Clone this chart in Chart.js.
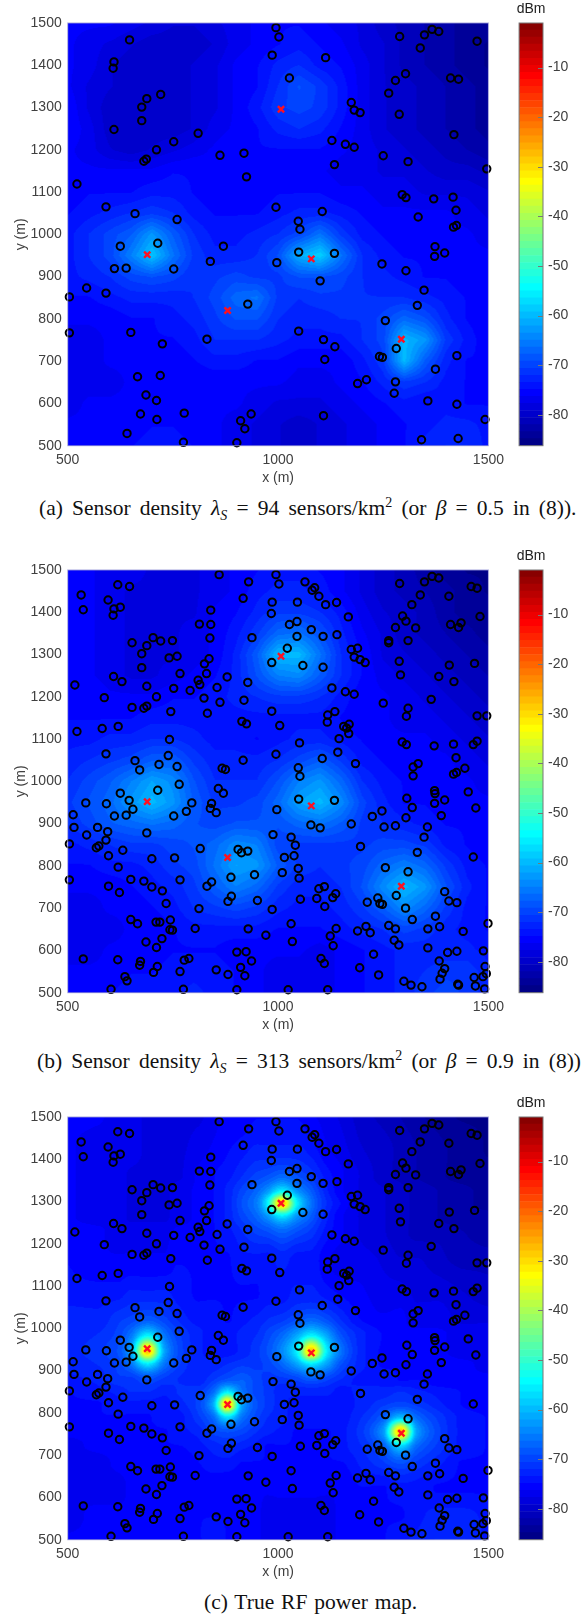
<!DOCTYPE html>
<html>
<head>
<meta charset="utf-8">
<script src="https://cdn.jsdelivr.net/npm/chart.js@4"></script>
<style>
html,body{margin:0;padding:0;background:#fff;width:581px;height:1615px;overflow:hidden}
canvas{position:absolute}
.cap{position:absolute;font-family:"Liberation Serif",serif;font-size:21.5px;line-height:24px;white-space:nowrap;color:#111;word-spacing:3.8px}
.cap sub{font-size:14px;line-height:0;font-style:italic}
.cap sup{font-size:14px;line-height:0}
.cap i{font-style:italic}
</style>
</head>
<body>
<canvas id="mapA"></canvas><canvas id="barA"></canvas>
<div class="cap" style="left:39px;top:496px">(a) Sensor density <i>λ</i><sub>S</sub> = 94 sensors/km<sup>2</sup> (or <i>β</i> = 0.5 in (8)).</div>
<canvas id="mapB"></canvas><canvas id="barB"></canvas>
<div class="cap" style="left:37px;top:1049px">(b) Sensor density <i>λ</i><sub>S</sub> = 313 sensors/km<sup>2</sup> (or <i>β</i> = 0.9 in (8))</div>
<canvas id="mapC"></canvas><canvas id="barC"></canvas>
<div class="cap" style="left:204px;top:1590px;word-spacing:1.5px">(c) True RF power map.</div>
<script>
var xTicks = [500,1000,1500];
var yTicks = [500,600,700,800,900,1000,1100,1200,1300,1400,1500];
var barTicks = [-80,-70,-60,-50,-40,-30,-20,-10];
var barMin = -86.25, barMax = -1, barLevels = 60;

// the five transmitters
var sources = [[689,952],[880,820],[1007,1296],[1079,942],[1293,752]];

var sensorsA = [
[995,1489],[1002,1467],[647,1460],[986,1424],[1113,1418],[610,1408],[608,1393],[1027,1370],[721,1331],[688,1321],
[676,1301],[676,1269],[610,1248],[810,1239],[752,1219],[711,1200],[687,1178],[681,1173],[862,1187],[919,1192],
[925,1136],[522,1119],[1128,1222],[1160,1213],[1181,1206],[1134,1165],[1174,1312],[1181,1294],[1195,1288],[1263,1334],
[1288,1284],[1279,1364],[1303,1380],[1289,1468],[1348,1472],[1366,1485],[1382,1480],[1338,1441],[1473,1457],[1410,1370],
[1429,1367],[1418,1236],[1250,1186],[1309,1172],[1496,1155],[1295,1094],[1304,1087],[1370,1084],[1416,1088],[1423,1057],
[591,1065],[660,1049],[760,1035],[995,1064],[1105,1054],[1048,1031],[1052,1012],[1333,1041],[1424,1021],[1417,1017],
[714,979],[625,972],[870,972],[1373,971],[1396,956],[1372,948],[1049,958],[1134,955],[839,936],[997,933],[1247,930],
[611,919],[639,920],[752,918],[1304,914],[545,873],[591,861],[504,852],[1100,890],[1347,868],[1331,832],[928,835],
[1255,796],[504,767],[650,768],[1049,771],[831,752],[725,741],[1108,751],[1135,734],[1281,730],[1111,704],[1241,711],
[1248,709],[1425,713],[1374,681],[666,663],[720,666],[1210,656],[1189,647],[1279,651],[686,620],[711,607],[1276,624],
[1356,606],[1425,598],[673,575],[712,562],[777,577],[936,575],[911,559],[921,540],[1108,571],[1492,562],[641,529],
[775,508],[902,507],[1341,514],[1428,517]
];

var sensorsB = [
[860,1489],[995,1489],[930,1472],[1002,1467],[1064,1472],[1087,1458],[1081,1452],[1097,1438],[1113,1418],[1139,1423],
[1046,1424],[986,1424],[917,1433],[984,1397],[840,1405],[813,1372],[840,1371],[838,1339],[938,1340],[1027,1371],
[1045,1378],[1045,1343],[1079,1359],[1107,1343],[1140,1347],[1167,1389],[1022,1315],[985,1281],[1059,1274],[1107,1270],
[1174,1312],[1189,1315],[1181,1294],[1195,1288],[1207,1281],[1128,1221],[1160,1212],[1181,1206],[928,1234],[879,1247],
[830,1255],[810,1239],[814,1229],[855,1222],[791,1215],[752,1220],[688,1225],[629,1236],[609,1248],[517,1228],
[587,1198],[711,1200],[824,1197],[862,1187],[919,1192],[653,1175],[681,1173],[688,1178],[745,1165],[832,1161],
[985,1166],[1135,1165],[1118,1157],[1117,1140],[914,1142],[925,1136],[1004,1132],[620,1130],[582,1125],[522,1118],
[1156,1130],[1169,1135],[1163,1126],[1168,1113],[1250,1185],[1309,1173],[1305,1154],[1364,1194],[1473,1155],[1496,1155],
[742,1099],[1145,1101],[1051,1091],[1295,1093],[1305,1087],[1371,1084],[1417,1088],[1464,1087],[1473,1095],[591,1065],
[995,1064],[1142,1069],[739,1061],[1423,1056],[1105,1054],[660,1049],[917,1050],[717,1040],[760,1035],[1184,1042],
[1048,1032],[671,1027],[867,1031],[875,1028],[1333,1042],[1321,1034],[1444,1031],[1424,1021],[1417,1017],[1052,1012],
[1321,1013],[765,993],[714,979],[625,972],[858,983],[870,972],[1372,978],[1373,971],[1452,975],[1306,960],
[1049,958],[1134,955],[543,949],[592,947],[646,955],[655,934],[795,949],[842,948],[839,936],[782,929],
[853,926],[997,933],[1319,938],[1372,948],[1396,956],[1470,937],[1247,930],[513,921],[611,918],[639,920],
[752,918],[1224,917],[1304,914],[1388,919],[515,891],[571,891],[595,881],[545,873],[688,878],[591,861],
[1078,897],[1100,890],[1174,899],[1252,892],[1279,895],[1355,892],[988,874],[1031,868],[1041,849],[1347,868],
[504,852],[574,847],[568,843],[631,837],[815,841],[905,839],[928,835],[913,831],[1331,832],[1196,846],
[597,824],[700,817],[754,819],[1015,820],[1038,824],[1464,821],[620,797],[1255,796],[1048,794],[1010,784],
[1309,786],[888,773],[944,779],[1050,771],[504,767],[650,768],[681,764],[767,767],[842,762],[831,752],
[597,752],[700,750],[725,741],[623,737],[1097,746],[1110,751],[1396,739],[1281,730],[1137,734],[1130,725],
[889,728],[1092,723],[1053,721],[1237,724],[881,716],[951,718],[1212,714],[1242,711],[1248,709],[1406,717],
[1425,713],[734,711],[1111,704],[1303,700],[812,699],[986,697],[650,673],[666,663],[710,667],[719,667],
[744,672],[1319,673],[1374,681],[1031,663],[743,649],[749,648],[803,652],[929,651],[1138,652],[1189,646],
[1209,657],[1219,642],[1263,659],[1279,651],[1356,651],[1384,656],[1440,645],[1499,664],[971,636],[1124,634],
[686,620],[724,628],[1034,621],[1276,624],[1287,613],[1131,611],[711,607],[1356,606],[902,596],[924,597],
[1227,591],[1403,595],[1425,598],[1488,599],[537,580],[619,578],[777,577],[788,581],[1102,581],[1110,569],
[937,575],[673,574],[671,565],[713,562],[911,560],[1383,575],[1194,559],[1396,557],[1492,562],[704,548],
[767,550],[853,554],[881,543],[921,540],[1239,542],[1390,546],[1495,545],[636,538],[641,528],[1385,532],
[1466,536],[1487,538],[1299,527],[1316,518],[1342,514],[1429,518],[1427,520],[1469,516],[1491,509],[603,508],
[775,508],[902,507],[1024,507],[1118,507],
[619,1465],[647,1461],[532,1441],[596,1429],[537,1406],[610,1408],[625,1412],[608,1393],[653,1328],[688,1321],
[703,1340],[721,1332],[749,1333],[676,1302],[741,1292],[760,1296],[836,1290],[825,1278],[676,1269],[767,1255],
[1289,1468],[1348,1472],[1366,1485],[1382,1481],[1338,1441],[1406,1438],[1459,1461],[1473,1457],[1318,1418],[1296,1391],
[1304,1379],[1279,1364],[1327,1363],[1410,1371],[1429,1364],[1435,1375],[1480,1390],[1263,1333],[1263,1328],[1309,1333],
[1288,1284],[1291,1252],[1407,1275],[1467,1279],[1382,1248],[1418,1236]
];

// dBm; rows run from y=1500 down to y=500
var gridX = [500,550,600,650,700,750,800,850,900,950,1000,1050,1100,1150,1200,1250,1300,1350,1400,1450,1500];
var gridY = [1500,1450,1400,1350,1300,1250,1200,1150,1100,1050,1000,950,900,850,800,750,700,650,600,550,500];

var heatA = [
[-76,-76,-76,-77,-78,-79,-79,-78,-77,-76,-75,-75,-76,-77,-78,-80,-81,-82,-83,-84,-84],
[-76,-77,-78,-79,-80,-80,-80,-79,-77,-76,-75,-74,-75,-76,-78,-79,-81,-82,-83,-84,-85],
[-76,-77,-79,-80,-80,-80,-79,-78,-76,-75,-73,-72,-74,-75,-77,-79,-81,-82,-83,-84,-85],
[-76,-78,-79,-80,-80,-80,-79,-78,-76,-75,-72,-69,-71,-74,-77,-79,-80,-81,-82,-83,-84],
[-75,-78,-80,-80,-80,-80,-79,-78,-76,-74,-71,-70,-71,-74,-77,-79,-80,-81,-82,-83,-84],
[-75,-77,-80,-80,-80,-80,-79,-77,-76,-75,-73,-72,-73,-75,-77,-79,-80,-81,-82,-83,-84],
[-76,-77,-79,-80,-79,-78,-77,-76,-75,-75,-75,-75,-75,-76,-77,-78,-79,-80,-81,-82,-83],
[-76,-76,-76,-76,-76,-75,-75,-76,-76,-76,-76,-76,-76,-77,-77,-78,-78,-79,-80,-80,-81],
[-76,-75,-75,-75,-74,-74,-75,-76,-76,-76,-75,-75,-75,-76,-76,-77,-77,-78,-78,-78,-79],
[-75,-74,-73,-72,-71,-72,-74,-75,-75,-75,-74,-73,-73,-74,-75,-76,-76,-76,-76,-77,-78],
[-74,-72,-70,-68,-63,-68,-72,-74,-74,-73,-72,-70,-66,-71,-74,-75,-76,-76,-76,-76,-77],
[-74,-72,-70,-65,-59,-66,-71,-73,-73,-72,-69,-61,-58,-66,-72,-74,-75,-75,-75,-76,-76],
[-74,-73,-72,-70,-69,-70,-72,-71,-70,-71,-71,-69,-69,-70,-72,-73,-74,-75,-75,-76,-76],
[-75,-75,-74,-73,-73,-73,-72,-70,-67,-66,-71,-72,-71,-71,-72,-72,-72,-73,-74,-75,-76],
[-76,-76,-76,-75,-75,-74,-73,-71,-69,-69,-72,-73,-73,-72,-72,-70,-67,-69,-73,-75,-76],
[-77,-77,-76,-76,-75,-75,-74,-72,-72,-72,-73,-74,-74,-74,-72,-70,-60,-63,-71,-74,-76],
[-77,-77,-76,-76,-76,-76,-75,-74,-74,-75,-75,-76,-76,-76,-74,-71,-60,-68,-73,-75,-75],
[-77,-77,-77,-76,-76,-76,-76,-76,-76,-76,-76,-77,-77,-76,-75,-73,-71,-72,-74,-75,-75],
[-77,-76,-76,-76,-76,-76,-76,-76,-76,-77,-78,-78,-78,-77,-76,-75,-74,-75,-74,-75,-75],
[-76,-76,-76,-76,-75,-75,-76,-76,-77,-78,-79,-80,-79,-78,-77,-76,-75,-74,-73,-73,-74],
[-75,-75,-75,-75,-74,-74,-75,-76,-77,-78,-79,-80,-79,-78,-77,-76,-75,-73,-72,-72,-74]
];

var heatB = [
[-76,-76,-77,-77,-78,-78,-78,-77,-76,-75,-74,-74,-75,-76,-78,-80,-81,-83,-84,-85,-85],
[-76,-76,-77,-78,-78,-78,-78,-77,-76,-74,-73,-73,-74,-76,-78,-80,-81,-82,-83,-84,-85],
[-76,-76,-77,-78,-78,-78,-78,-76,-75,-73,-71,-71,-72,-74,-77,-79,-80,-81,-83,-84,-84],
[-75,-76,-77,-78,-78,-78,-77,-76,-74,-71,-67,-66,-69,-73,-76,-78,-80,-81,-82,-83,-84],
[-75,-76,-77,-78,-78,-78,-77,-76,-73,-68,-60,-60,-66,-72,-75,-78,-79,-80,-81,-82,-83],
[-75,-76,-77,-78,-78,-77,-76,-75,-73,-69,-65,-64,-68,-72,-75,-77,-78,-79,-80,-81,-82],
[-75,-75,-76,-76,-76,-75,-75,-74,-73,-72,-71,-71,-72,-74,-76,-76,-77,-78,-79,-80,-81],
[-75,-75,-75,-75,-74,-74,-74,-74,-74,-74,-74,-74,-74,-75,-76,-76,-77,-77,-78,-79,-80],
[-74,-74,-73,-73,-72,-72,-73,-74,-74,-75,-74,-73,-73,-74,-75,-76,-76,-76,-77,-78,-79],
[-73,-72,-71,-70,-68,-68,-71,-73,-73,-73,-72,-70,-68,-71,-74,-75,-76,-76,-76,-77,-78],
[-72,-70,-68,-65,-62,-64,-69,-72,-72,-72,-69,-65,-63,-67,-72,-74,-75,-76,-76,-76,-77],
[-71,-69,-67,-63,-60,-63,-68,-71,-71,-70,-67,-62,-60,-64,-70,-73,-75,-75,-76,-76,-76],
[-72,-70,-68,-67,-66,-67,-69,-70,-69,-69,-69,-67,-66,-68,-71,-72,-73,-74,-75,-75,-76],
[-74,-73,-72,-71,-71,-70,-69,-67,-64,-65,-70,-71,-71,-71,-71,-70,-70,-71,-74,-75,-76],
[-75,-75,-74,-74,-73,-71,-70,-66,-62,-63,-68,-71,-72,-71,-70,-67,-65,-67,-71,-74,-75],
[-76,-76,-76,-75,-74,-73,-71,-68,-65,-67,-71,-73,-73,-72,-69,-64,-60,-63,-69,-73,-75],
[-77,-77,-76,-76,-75,-74,-72,-71,-70,-71,-73,-74,-74,-73,-71,-68,-64,-67,-71,-74,-75],
[-77,-77,-77,-76,-76,-75,-74,-74,-74,-74,-75,-75,-75,-74,-73,-72,-70,-71,-73,-74,-75],
[-77,-77,-76,-76,-76,-75,-75,-75,-76,-76,-76,-76,-77,-76,-75,-74,-73,-73,-73,-73,-74],
[-76,-76,-76,-75,-75,-74,-74,-74,-75,-76,-77,-77,-77,-76,-75,-74,-73,-72,-71,-71,-73],
[-75,-75,-75,-74,-74,-74,-73,-74,-75,-76,-77,-77,-77,-76,-75,-74,-73,-71,-70,-71,-73]
];

// true map has tighter peaks, so its grid is closer round the sources
var trueX = [500,570,620,650,690,730,760,810,845,880,915,950,975,1010,1045,1079,1115,1150,1200,1250,1292,1330,1380,1440,1500];
var trueY = [1500,1420,1360,1325,1296,1265,1230,1160,1080,1020,985,946,915,880,850,820,790,755,720,680,620,560,500];
var heatC = [
[-76,-76,-77,-77,-78,-78,-78,-78,-77,-76,-76,-75,-75,-75,-75,-76,-77,-78,-80,-81,-82,-83,-84,-85,-85],
[-76,-77,-77,-77,-78,-78,-78,-77,-76,-75,-74,-73,-73,-73,-73,-74,-76,-77,-79,-80,-81,-82,-83,-84,-85],
[-76,-77,-77,-78,-78,-78,-78,-76,-75,-74,-72,-70,-69,-67,-69,-71,-74,-76,-78,-80,-81,-82,-83,-84,-84],
[-76,-77,-77,-78,-78,-78,-77,-76,-75,-73,-70,-67,-63,-55,-63,-68,-73,-76,-78,-79,-80,-81,-82,-83,-84],
[-76,-77,-77,-78,-78,-78,-77,-76,-75,-73,-69,-65,-55,-28,-55,-66,-72,-75,-78,-79,-80,-81,-82,-83,-84],
[-76,-77,-77,-78,-78,-78,-77,-76,-75,-73,-70,-67,-63,-56,-63,-68,-73,-76,-78,-79,-80,-81,-82,-83,-83],
[-76,-76,-77,-77,-77,-77,-76,-76,-75,-74,-72,-70,-69,-67,-69,-71,-74,-76,-78,-79,-80,-81,-81,-82,-83],
[-75,-76,-76,-76,-76,-76,-75,-75,-75,-75,-74,-74,-74,-73,-74,-74,-76,-77,-77,-78,-79,-79,-80,-81,-81],
[-74,-74,-74,-73,-73,-73,-74,-75,-75,-75,-75,-75,-74,-74,-73,-73,-74,-75,-76,-77,-77,-78,-78,-79,-80],
[-73,-73,-71,-70,-68,-70,-72,-74,-74,-75,-74,-73,-72,-71,-69,-67,-69,-72,-75,-76,-76,-77,-77,-78,-78],
[-73,-72,-70,-66,-56,-66,-70,-73,-74,-74,-73,-72,-70,-67,-62,-56,-62,-69,-73,-75,-76,-76,-76,-77,-77],
[-73,-71,-69,-62,-28,-62,-69,-73,-74,-74,-73,-71,-69,-64,-55,-28,-55,-66,-73,-75,-75,-76,-76,-77,-77],
[-73,-72,-70,-66,-56,-66,-70,-73,-73,-72,-71,-71,-70,-67,-62,-56,-62,-69,-73,-75,-75,-76,-76,-76,-77],
[-74,-73,-71,-71,-69,-71,-72,-73,-71,-69,-68,-70,-71,-71,-70,-68,-70,-72,-74,-74,-75,-75,-76,-76,-76],
[-75,-74,-73,-72,-72,-73,-72,-71,-67,-56,-66,-70,-71,-73,-73,-73,-73,-74,-73,-73,-72,-73,-74,-75,-76],
[-75,-75,-74,-74,-74,-74,-73,-70,-62,-28,-62,-69,-71,-73,-74,-74,-74,-74,-73,-71,-70,-71,-73,-75,-76],
[-76,-75,-75,-75,-75,-74,-74,-71,-67,-56,-66,-70,-72,-73,-74,-74,-74,-74,-72,-68,-60,-67,-71,-74,-75],
[-76,-76,-76,-75,-75,-75,-74,-73,-70,-69,-70,-72,-73,-74,-75,-75,-75,-74,-71,-63,-28,-62,-70,-74,-75],
[-77,-76,-76,-76,-76,-75,-75,-74,-73,-72,-73,-74,-75,-75,-75,-75,-75,-74,-72,-68,-58,-67,-71,-74,-75],
[-77,-77,-76,-76,-76,-76,-76,-75,-74,-74,-75,-75,-75,-76,-76,-76,-75,-75,-73,-71,-69,-71,-73,-75,-75],
[-77,-77,-77,-76,-76,-76,-76,-76,-76,-76,-76,-76,-76,-76,-76,-76,-76,-76,-75,-75,-74,-74,-75,-75,-75],
[-77,-76,-76,-76,-76,-76,-76,-75,-75,-75,-76,-76,-77,-77,-77,-77,-77,-76,-76,-75,-75,-74,-73,-73,-74],
[-76,-76,-76,-75,-75,-75,-75,-75,-74,-75,-76,-76,-77,-77,-77,-77,-77,-76,-76,-75,-74,-73,-72,-72,-74]
];

var PLOT = 422.7, LEFT = 67.7, RIGHT = 490.4, ABOVE = 20, CANVAS_H = 490;
var tickFont = {family:'"Liberation Sans", Arial, sans-serif', size:14};
var textColor = '#404040';

function jet(t) {
    var c = function (v) { return Math.round(255 * Math.max(0, Math.min(1, v))); };
    return [c(1.5 - Math.abs(4*t - 3)), c(1.5 - Math.abs(4*t - 2)), c(1.5 - Math.abs(4*t - 1))];
}

function levelOf(v) {
    var i = Math.floor((v - barMin) / (barMax - barMin) * barLevels);
    return Math.max(0, Math.min(barLevels - 1, i));
}

// piecewise line, or monotone cubic for the smooth map
function curve(xs, vs, smooth) {
    var n = xs.length, d = [], m = [];
    for (var i = 0; i < n - 1; i++) d[i] = (vs[i+1] - vs[i]) / (xs[i+1] - xs[i]);
    m[0] = d[0]; m[n-1] = d[n-2];
    for (var j = 1; j < n - 1; j++) {
        if (d[j-1] * d[j] <= 0) { m[j] = 0; continue; }
        var h0 = xs[j] - xs[j-1], h1 = xs[j+1] - xs[j];
        m[j] = 3 * (h0 + h1) / ((2*h1 + h0) / d[j-1] + (h1 + 2*h0) / d[j]);
    }
    return function (x) {
        var k = 0;
        while (k < n - 2 && x > xs[k+1]) k++;
        var h = xs[k+1] - xs[k], t = (x - xs[k]) / h;
        if (!smooth) return vs[k] + t * (vs[k+1] - vs[k]);
        var t2 = t*t, t3 = t2*t;
        return (2*t3 - 3*t2 + 1) * vs[k] + (t3 - 2*t2 + t) * h * m[k] + (3*t2 - 2*t3) * vs[k+1] + (t3 - t2) * h * m[k+1];
    };
}

function heatPlugin(xs, ys, rows, smooth) {
    return {
        id: 'heat',
        beforeDatasetsDraw: function (chart) {
            var a = chart.chartArea, sx = chart.scales.x, sy = chart.scales.y;
            var w = Math.ceil(a.right - a.left), h = Math.ceil(a.bottom - a.top);
            var off = document.createElement('canvas');
            off.width = w; off.height = h;
            var octx = off.getContext('2d'), img = octx.createImageData(w, h);
            var upY = ys.slice().reverse();
            var cols = xs.map(function (_, c) {
                return curve(upY, rows.map(function (r) { return r[c]; }).reverse(), smooth);
            });
            var dataX = [];
            for (var px = 0; px < w; px++) dataX[px] = sx.getValueForPixel(a.left + px + 0.5);
            var p = 0;
            for (var py = 0; py < h; py++) {
                var y = sy.getValueForPixel(a.top + py + 0.5);
                var line = curve(xs, cols.map(function (f) { return f(y); }), smooth);
                for (var q = 0; q < w; q++) {
                    var rgb = jet((levelOf(line(dataX[q])) + 0.5) / barLevels);
                    img.data[p++] = rgb[0]; img.data[p++] = rgb[1]; img.data[p++] = rgb[2]; img.data[p++] = 255;
                }
            }
            octx.putImageData(img, 0, 0);
            chart.ctx.drawImage(off, a.left, a.top, a.right - a.left, a.bottom - a.top);
        },
        afterDraw: function (chart) {
            var a = chart.chartArea, c = chart.ctx;
            c.save();
            c.strokeStyle = 'rgba(150,150,215,0.85)';
            c.lineWidth = 1;
            c.strokeRect(a.left, a.top, a.right - a.left, a.bottom - a.top);
            c.restore();
        }
    };
}

function pts(list) {
    return list.map(function (p) { return {x: p[0], y: p[1]}; });
}

function plainTick(v) {
    return String(v);
}

function drawMap(id, top, sensors, xs, ys, rows, smooth) {
    var el = document.getElementById(id);
    el.style.left = '0px';
    el.style.top = (top - ABOVE) + 'px';
    el.width = 510; el.height = CANVAS_H;
    new Chart(el, {
        type: 'scatter',
        data: {datasets: [
            {label: 'Transmitters', data: pts(sources), pointStyle: 'crossRot', pointRadius: 4.4, pointBorderWidth: 2.4, pointBorderColor: '#ff1020', clip: false},
            {label: 'Sensors', data: pts(sensors), pointStyle: 'circle', pointRadius: 3.7, pointBorderWidth: 2, pointBorderColor: '#000', pointBackgroundColor: 'rgba(0,0,0,0)', clip: false}
        ]},
        options: {
            responsive: false, animation: false, events: [],
            layout: {padding: {left: 0, right: 510 - RIGHT, top: ABOVE, bottom: 0}},
            plugins: {legend: {display: false}, tooltip: {enabled: false}},
            scales: {
                x: {
                    type: 'linear', min: 500, max: 1500,
                    grid: {display: false, drawTicks: false}, border: {display: false},
                    title: {display: true, text: 'x (m)', color: textColor, font: tickFont, padding: {top: 0, bottom: 6}},
                    ticks: {color: textColor, font: tickFont, padding: 6, maxRotation: 0, autoSkip: false, callback: plainTick},
                    afterBuildTicks: function (s) { s.ticks = xTicks.map(function (v) { return {value: v}; }); },
                    afterFit: function (s) { s.height = CANVAS_H - ABOVE - PLOT; }
                },
                y: {
                    type: 'linear', min: 500, max: 1500,
                    grid: {display: false, drawTicks: false}, border: {display: false},
                    title: {display: true, text: 'y (m)', color: textColor, font: tickFont, padding: {top: 13, bottom: 0}},
                    ticks: {color: textColor, font: tickFont, padding: 6, autoSkip: false, callback: plainTick},
                    afterBuildTicks: function (s) { s.ticks = yTicks.map(function (v) { return {value: v}; }); },
                    afterFit: function (s) { s.width = LEFT; }
                }
            }
        },
        plugins: [heatPlugin(xs, ys, rows, smooth)]
    });
}

function drawBar(id, top) {
    var el = document.getElementById(id);
    el.style.left = '505px';
    el.style.top = (top - ABOVE) + 'px';
    el.width = 76; el.height = CANVAS_H;
    var sets = [];
    for (var i = 0; i < barLevels; i++) {
        var step = (barMax - barMin) / barLevels, rgb = jet((i + 0.5) / barLevels);
        sets.push({data: [[barMin + i*step, barMin + (i+1)*step]], backgroundColor: 'rgb(' + rgb.join(',') + ')', grouped: false, barPercentage: 1, categoryPercentage: 1});
    }
    new Chart(el, {
        type: 'bar',
        data: {labels: ['dBm'], datasets: sets},
        options: {
            responsive: false, animation: false, events: [],
            layout: {padding: {left: 13.3, right: 0, top: 0, bottom: CANVAS_H - ABOVE - PLOT}},
            plugins: {legend: {display: false}, tooltip: {enabled: false}},
            scales: {
                x: {
                    position: 'top',
                    grid: {display: false, drawTicks: false}, border: {display: false},
                    ticks: {color: '#222', font: tickFont, padding: 5, maxRotation: 0},
                    afterFit: function (s) { s.height = ABOVE; }
                },
                y: {
                    position: 'right', min: barMin, max: barMax,
                    grid: {display: false, drawTicks: false}, border: {display: false},
                    ticks: {color: textColor, font: tickFont, padding: 5, autoSkip: false, callback: plainTick},
                    afterBuildTicks: function (s) { s.ticks = barTicks.map(function (v) { return {value: v}; }); },
                    afterFit: function (s) { s.width = 38; }
                }
            }
        },
        plugins: [{
            id: 'barFrame',
            afterDraw: function (chart) {
                var a = chart.chartArea, c = chart.ctx, sy = chart.scales.y;
                c.save();
                c.strokeStyle = '#777';
                c.lineWidth = 1;
                c.strokeRect(a.left, a.top, a.right - a.left, a.bottom - a.top);
                barTicks.forEach(function (v) {
                    var y = Math.round(sy.getPixelForValue(v)) + 0.5;
                    c.beginPath(); c.moveTo(a.right - 5, y); c.lineTo(a.right, y); c.stroke();
                });
                c.restore();
            }
        }]
    });
}

drawMap('mapA', 23.3, sensorsA, gridX, gridY, heatA, false);
drawBar('barA', 23.3);
drawMap('mapB', 570.3, sensorsB, gridX, gridY, heatB, false);
drawBar('barB', 570.3);
drawMap('mapC', 1117.3, sensorsB, trueX, trueY, heatC, true);
drawBar('barC', 1117.3);
</script>
</body>
</html>
